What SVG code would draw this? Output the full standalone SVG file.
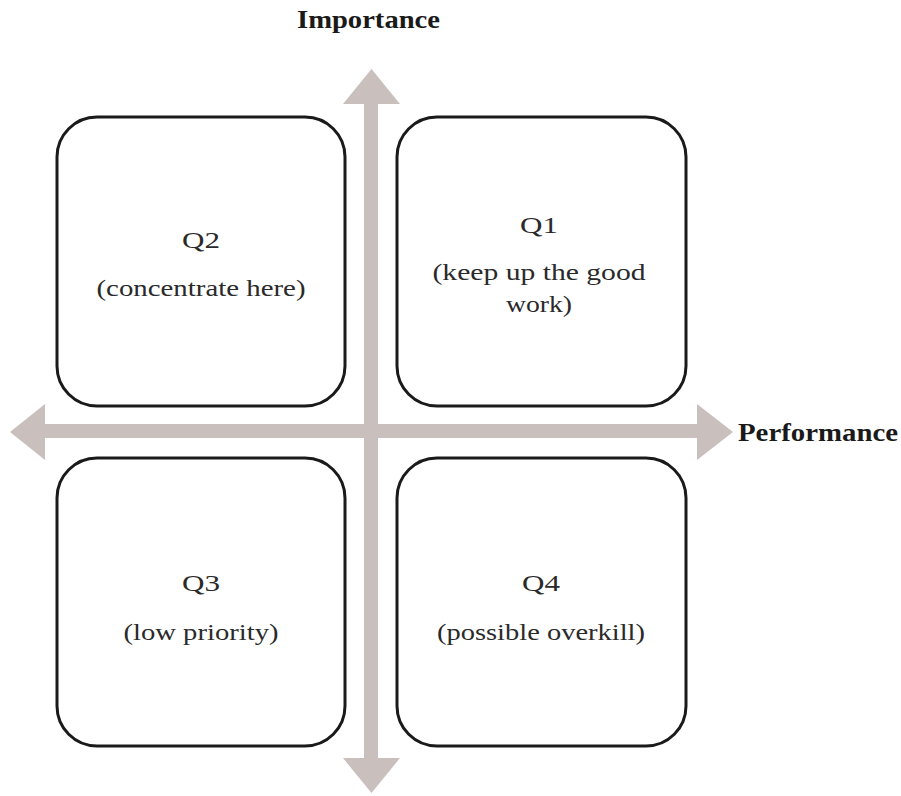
<svg xmlns="http://www.w3.org/2000/svg" width="901" height="796" viewBox="0 0 901 796">
  <style>
    .box { fill: #ffffff; stroke: #1a1a1a; stroke-width: 3; }
    .axis { fill: #c9bfbd; stroke: none; }
    .lbl { font-family: 'Liberation Serif', 'Times New Roman', Tinos, Times, serif; font-size: 24px; fill: #2a2a2a; text-anchor: middle; }
    .ax { font-family: 'Liberation Serif', 'Times New Roman', Tinos, Times, serif; font-size: 25px; font-weight: bold; fill: #1a1a1a; }
  </style>
  <rect width="901" height="796" fill="#ffffff"/>
  <g id="connectors">
    <polygon id="axis-vertical" class="axis" points="371.5,69 400,104 378,104 378,758 400,758 371.5,793 343,758 364,758 364,104 343,104"/>
    <polygon id="axis-horizontal" class="axis" points="10,432 45,404 45,424 697,424 697,404 733,432 697,460 697,438 45,438 45,460"/>
  </g>
  <g id="importance-label">
    <text class="ax" x="297" y="28" textLength="143" lengthAdjust="spacingAndGlyphs">Importance</text>
  </g>
  <g id="performance-label">
    <text class="ax" x="738" y="441" textLength="160" lengthAdjust="spacingAndGlyphs">Performance</text>
  </g>
  <g id="q2">
    <rect class="box" x="57" y="117" width="288" height="289" rx="40" ry="40"/>
    <text class="lbl" x="201" y="248" textLength="38" lengthAdjust="spacingAndGlyphs">Q2</text>
    <text class="lbl" x="201" y="296" textLength="209" lengthAdjust="spacingAndGlyphs">(concentrate here)</text>
  </g>
  <g id="q1">
    <rect class="box" x="397" y="117" width="289" height="289" rx="40" ry="40"/>
    <text class="lbl" x="539" y="233" textLength="38" lengthAdjust="spacingAndGlyphs">Q1</text>
    <text class="lbl" x="539" y="280" textLength="213" lengthAdjust="spacingAndGlyphs">(keep up the good</text>
    <text class="lbl" x="539" y="312" textLength="66" lengthAdjust="spacingAndGlyphs">work)</text>
  </g>
  <g id="q3">
    <rect class="box" x="57" y="458" width="288" height="288" rx="40" ry="40"/>
    <text class="lbl" x="201" y="591" textLength="38" lengthAdjust="spacingAndGlyphs">Q3</text>
    <text class="lbl" x="201" y="640" textLength="155" lengthAdjust="spacingAndGlyphs">(low priority)</text>
  </g>
  <g id="q4">
    <rect class="box" x="397" y="458" width="289" height="288" rx="40" ry="40"/>
    <text class="lbl" x="541" y="591" textLength="38" lengthAdjust="spacingAndGlyphs">Q4</text>
    <text class="lbl" x="541" y="640" textLength="208" lengthAdjust="spacingAndGlyphs">(possible overkill)</text>
  </g>
</svg>
